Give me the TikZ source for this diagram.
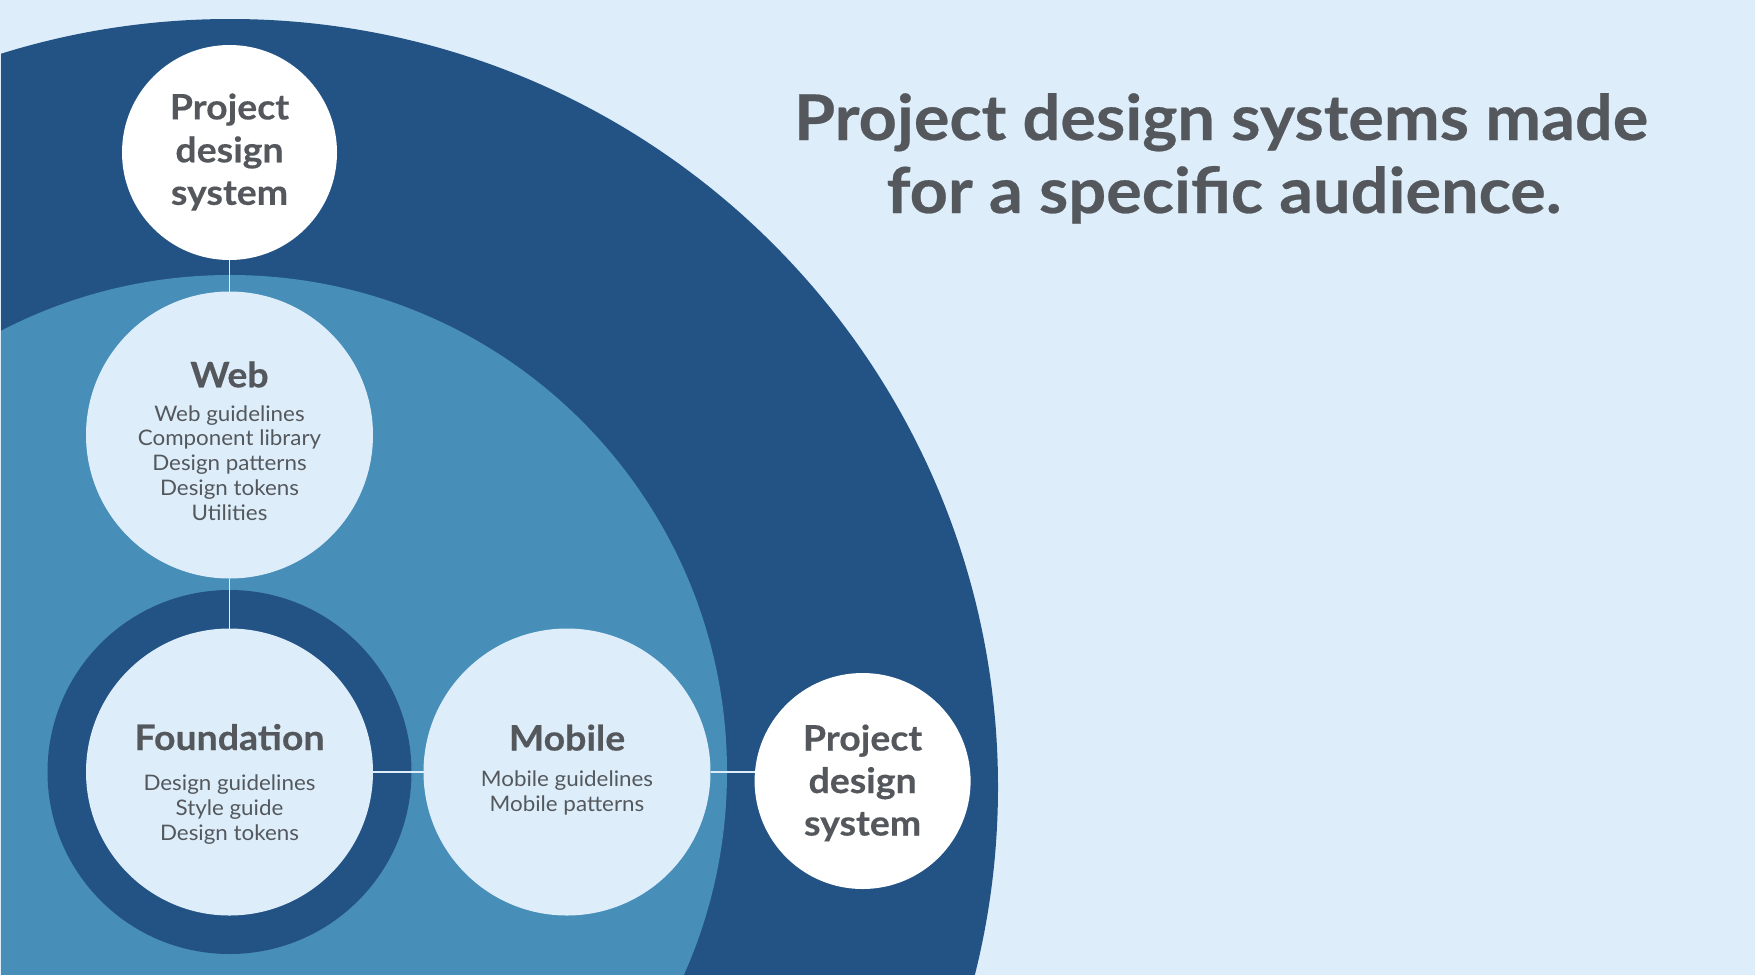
\documentclass[tikz,border=0pt]{standalone}
\usepackage{fontspec}
\setmainfont{Lato}
% slightly widened faces for the headings and item lists
\newfontfamily\titleface[FakeStretch=1.058,FakeBold=0.4]{Lato}
\newfontfamily\headface[FakeStretch=1.07,FakeBold=0.4]{Lato}
\newfontfamily\itemface[FakeStretch=1.045]{Lato}
\definecolor{bgblue}{HTML}{DDEEFA}
\definecolor{deepblue}{HTML}{235385}
\definecolor{midblue}{HTML}{478EB8}
\definecolor{inkgray}{HTML}{54585D}
\begin{document}
\begin{tikzpicture}[x=1pt,y=-1pt,
  disc/.style={circle,inner sep=0pt,outer sep=0pt,minimum size=#1},
  link/.style={draw=bgblue,line width=1.3pt},
  headtxt/.style={anchor=base,inner sep=0pt,text=inkgray,font=\headface\fontsize{35}{35}\selectfont\bfseries},
  itemtxt/.style={anchor=base,inner sep=0pt,text=inkgray,font=\itemface\fontsize{21.4}{21.4}\selectfont},
  titletxt/.style={anchor=base,inner sep=0pt,text=inkgray,font=\titleface\fontsize{63}{63}\selectfont\bfseries}]
% canvas
\fill[bgblue] (0,0) rectangle (1755,975);
\useasboundingbox (0,0) rectangle (1755,975);
% concentric backdrop bands
\begin{scope}
  \clip (1,0) rectangle (1755,974);
  \fill[deepblue] (230,787) circle[radius=768];
  \fill[midblue] (230,772) circle[radius=497];
\end{scope}
% circles
\node[disc=215pt,fill=white] (projtop) at (229.5,152.5) {};
\node[disc=287pt,fill=bgblue] (web) at (229.5,435) {};
\node[disc=364pt,fill=deepblue] (ring) at (229.5,772) {};
\node[disc=287pt,fill=bgblue] (found) at (229.5,772) {};
\node[disc=287pt,fill=bgblue] (mobile) at (567,772) {};
\node[disc=216pt,fill=white] (projright) at (862.6,781) {};
% connectors
\draw[link] (projtop.south) -- (web.north);
\draw[link] (web.south) -- (found.north);
\draw[link] (found.east) -- (mobile.west);
\draw[link] (mobile.east) -- (mobile.east -| projright.west);
% heading
\node[titletxt] (title1) at (1221,140) {Project design systems made};
\node[titletxt] (title2) at (1224,213) {for a specific audience.};
% top project circle
\node[headtxt] (pt1) at (229.5,119.4) {Project};
\node[headtxt] (pt2) at (229.5,162.3) {design};
\node[headtxt] (pt3) at (229.5,204.8) {system};
% right project circle
\node[headtxt] (pr1) at (862.6,750.5) {Project};
\node[headtxt] (pr2) at (862.6,793) {design};
\node[headtxt] (pr3) at (862.6,835.5) {system};
% web
\node[headtxt] (webhead) at (229.5,387.3) {Web};
\node[itemtxt] (w1) at (229.5,421) {Web guidelines};
\node[itemtxt] (w2) at (229.5,445.9) {Component library};
\node[itemtxt] (w3) at (229.5,470.8) {Design patterns};
\node[itemtxt] (w4) at (229.5,495.7) {Design tokens};
\node[itemtxt] (w5) at (229.5,520.6) {Utilities};
% foundation
\node[headtxt] (foundhead) at (229.5,750) {Foundation};
\node[itemtxt] (f1) at (229.5,790.7) {Design guidelines};
\node[itemtxt] (f2) at (229.5,815.7) {Style guide};
\node[itemtxt] (f3) at (229.5,840.7) {Design tokens};
% mobile
\node[headtxt] (mobhead) at (567,750.5) {Mobile};
\node[itemtxt] (m1) at (567,786.7) {Mobile guidelines};
\node[itemtxt] (m2) at (567,811.2) {Mobile patterns};
\end{tikzpicture}
\end{document}
